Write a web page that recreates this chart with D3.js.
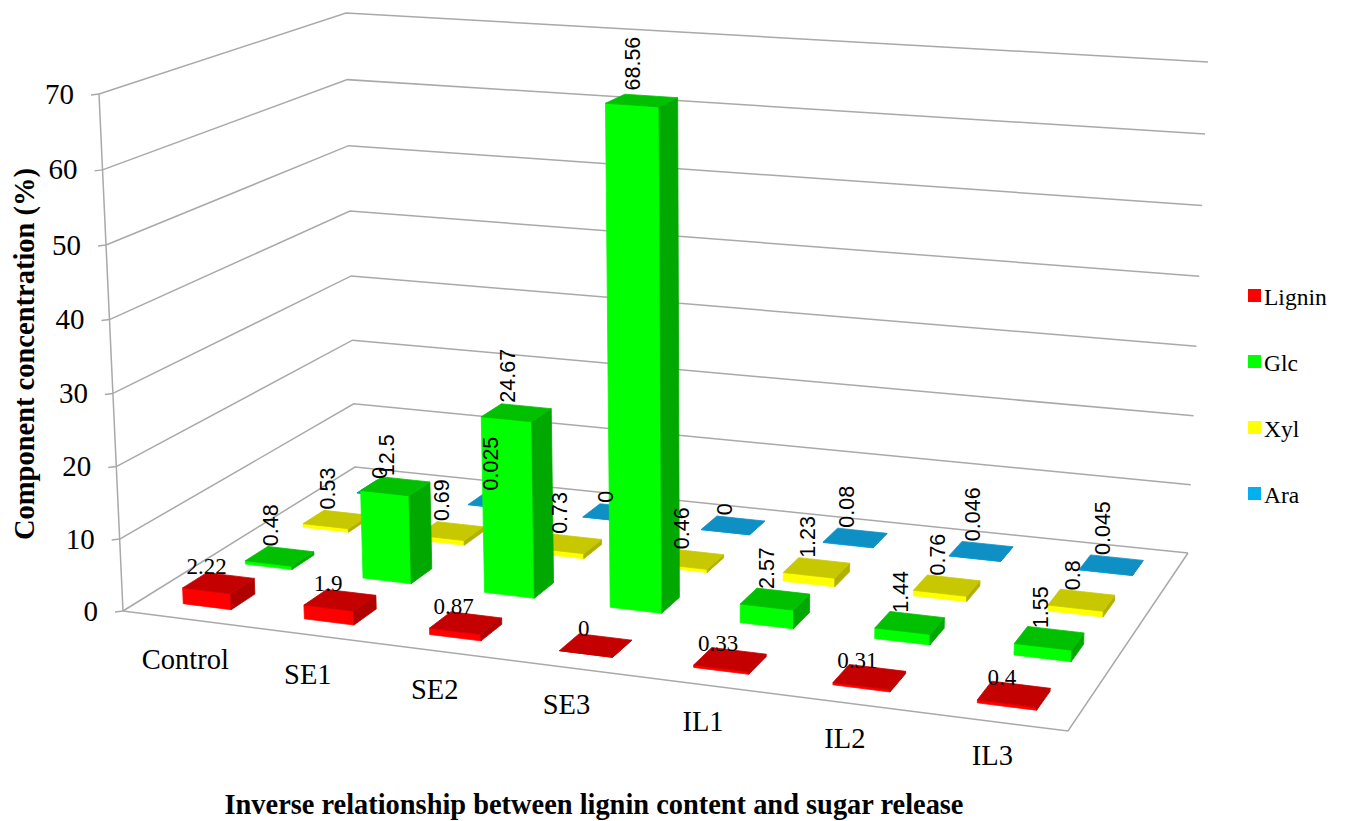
<!DOCTYPE html>
<html>
<head>
<meta charset="utf-8">
<style>
  html, body { margin: 0; padding: 0; background: #fff; }
  svg { display: block; }
  text { fill: #000; }
</style>
<script src="https://cdn.jsdelivr.net/npm/d3@7/dist/d3.min.js"></script>
</head>
<body>
<svg id="chart" width="1345" height="821"></svg>
<script>
// Sugar release and lignin content per pretreatment
const categories = ["Control", "SE1", "SE2", "SE3", "IL1", "IL2", "IL3"];
const seriesNames = ["Lignin", "Glc", "Xyl", "Ara"];
const lignin = [2.22, 1.9, 0.87, 0, 0.33, 0.31, 0.4];
const glc = [0.48, 12.5, 24.67, 68.56, 2.57, 1.44, 1.55];
const xyl = [0.53, 0.69, 0.73, 0.46, 1.23, 0.76, 0.8];
const ara = [0, 0.025, 0, 0, 0.08, 0.046, 0.045];
const seriesValues = [lignin, glc, xyl, ara];
const tickValues = [0, 10, 20, 30, 40, 50, 60, 70];

// Face shades for each series: front, top, side
const palette = {
  Lignin: { front: "#ff0000", top: "#c40000", side: "#b00000", key: "#ff0000" },
  Glc:    { front: "#00ff00", top: "#00c000", side: "#00a800", key: "#00ff00" },
  Xyl:    { front: "#ffff00", top: "#c8c800", side: "#b0b000", key: "#ffff00" },
  Ara:    { front: "#00b0f0", top: "#0f90c4", side: "#0c7ca8", key: "#00b0f0" }
};

const SERIF = "'Liberation Serif', serif";
const SANS = "'Liberation Sans', sans-serif";
const GRID = "#a9a9a9";

const svg = d3.select("#chart");

// Homography taking the unit square onto a quad (p00, p10, p11, p01)
function quadMap(p00, p10, p11, p01) {
  const dx1 = p10[0] - p11[0], dx2 = p01[0] - p11[0], sx = p00[0] - p10[0] + p11[0] - p01[0];
  const dy1 = p10[1] - p11[1], dy2 = p01[1] - p11[1], sy = p00[1] - p10[1] + p11[1] - p01[1];
  const det = dx1 * dy2 - dx2 * dy1;
  const g = (sx * dy2 - dx2 * sy) / det;
  const h = (dx1 * sy - sx * dy1) / det;
  const a = p10[0] - p00[0] + g * p10[0], b = p01[0] - p00[0] + h * p01[0], c = p00[0];
  const d = p10[1] - p00[1] + g * p10[1], e = p01[1] - p00[1] + h * p01[1], f = p00[1];
  return (u, v) => {
    const w = g * u + h * v + 1;
    return [(a * u + b * v + c) / w, (d * u + e * v + f) / w];
  };
}

// Floor and ceiling of the plot box in page space; u runs along categories, v into depth
const floorMap = quadMap([123, 611], [1068, 731], [1188, 553], [355, 467]);
const ceilMap = quadMap([99, 94], [1088, 165], [1208, 62], [346, 13]);

const yScale = d3.scaleLinear().domain([0, 70]).range([0, 1]);
const uScale = d3.scaleBand().domain(categories).range([0, 1]).paddingInner(0.6).paddingOuter(0.31).align(0.55);
const vScale = d3.scaleBand().domain(seriesNames).range([0, 1]).paddingInner(0.62).paddingOuter(0.3);

// Heights recede slightly toward the floor under the camera's perspective
const heightFraction = value => {
  const s = yScale(value);
  return s / (1 + 0.032 * (1 - s));
};

function project(u, v, value) {
  const a = floorMap(u, v), b = ceilMap(u, v), t = heightFraction(value);
  return [a[0] + (b[0] - a[0]) * t, a[1] + (b[1] - a[1]) * t];
}

const line = d3.line();
const walls = svg.append("g").attr("fill", "none").attr("stroke", GRID).attr("stroke-width", 1.5);

// Gridlines along the left and back walls, with a tick on the front corner
tickValues.forEach(t => {
  const fl = project(0, 0, t), bl = project(0, 1, t), br = project(1, 1, t);
  walls.append("path").attr("d", line([fl, bl, br]));
  walls.append("path").attr("d", line([[fl[0] - 8, fl[1] + 1], fl]));
});
walls.append("path").attr("d", line([project(0, 0, 0), project(0, 0, 70)]));
walls.append("path").attr("d", line([project(0, 0, 0), project(1, 0, 0), project(1, 1, 0)]));

// Value axis numbers
svg.append("g").selectAll("text").data(yScale.ticks(7)).join("text")
  .attr("x", d => project(0, 0, d)[0] - 25)
  .attr("y", d => project(0, 0, d)[1])
  .attr("dy", "0.33em")
  .attr("text-anchor", "end")
  .attr("font-family", SERIF)
  .attr("font-size", 29)
  .text(d => d);

// Category names sit just in front of the floor's leading edge, drifting with the view
const labelDx = d3.scaleLinear().domain([0, categories.length - 1]).range([32, 17]);
const labelDy = d3.scaleLinear().domain([0, categories.length - 1]).range([18, 7]);
const labelAnchor = d => project(uScale(d) + uScale.bandwidth() / 2, -0.13, 0);
svg.append("g").selectAll("text").data(categories).join("text")
  .attr("x", (d, i) => labelAnchor(d)[0] + labelDx(i))
  .attr("y", (d, i) => labelAnchor(d)[1] + labelDy(i))
  .attr("dy", "0.33em")
  .attr("text-anchor", "middle")
  .attr("font-family", SERIF)
  .attr("font-size", 28.5)
  .text(d => d);

// Flatten the table into one record per bar
const bars = [];
seriesNames.forEach((s, si) => categories.forEach((c, ci) => {
  bars.push({ series: s, category: c, value: seriesValues[si][ci] });
}));

function barGeometry(d) {
  const u0 = uScale(d.category), u1 = u0 + uScale.bandwidth();
  const v0 = vScale(d.series), v1 = v0 + vScale.bandwidth();
  const b = (u, v) => project(u, v, 0), t = (u, v) => project(u, v, d.value);
  return {
    front: [b(u0, v0), b(u1, v0), t(u1, v0), t(u0, v0)],
    side: [b(u1, v0), b(u1, v1), t(u1, v1), t(u1, v0)],
    top: [t(u0, v0), t(u1, v0), t(u1, v1), t(u0, v1)],
    centre: t((u0 + u1) / 2, (v0 + v1) / 2)
  };
}

// Paint from the back row forward so nearer bars overlap farther ones
const ordered = bars.slice().sort((a, b) =>
  seriesNames.indexOf(b.series) - seriesNames.indexOf(a.series) ||
  categories.indexOf(b.category) - categories.indexOf(a.category));

const polygon = pts => "M" + pts.map(p => p.join(",")).join("L") + "Z";
const barGroups = svg.append("g").selectAll("g").data(ordered).join("g");
["front", "side", "top"].forEach(face => {
  barGroups.append("path")
    .attr("d", d => polygon(barGeometry(d)[face]))
    .attr("fill", d => palette[d.series][face])
    .attr("stroke", d => palette[d.series][face])
    .attr("stroke-width", 0.8)
    .attr("stroke-linejoin", "round");
});

// Lignin values read horizontally, the sugars run upward from each bar
const labels = svg.append("g");
labels.selectAll("text.flat").data(bars.filter(d => d.series === "Lignin")).join("text")
  .attr("class", "flat")
  .attr("x", d => barGeometry(d).centre[0] - 12)
  .attr("y", d => barGeometry(d).centre[1] - 17)
  .attr("dy", "0.35em")
  .attr("text-anchor", "middle")
  .attr("font-family", SERIF)
  .attr("font-size", 23)
  .text(d => d.value);

labels.selectAll("text.up").data(bars.filter(d => d.series !== "Lignin")).join("text")
  .attr("class", "up")
  .attr("transform", d => {
    const c = barGeometry(d).centre;
    return `translate(${c[0] - 9},${c[1] - 10}) rotate(-90)`;
  })
  .attr("dy", "0.35em")
  .attr("font-family", SANS)
  .attr("font-size", 21.5)
  .text(d => d.value);

// Titles
svg.append("text")
  .attr("transform", "translate(25,354) rotate(-90)")
  .attr("dy", "0.33em")
  .attr("text-anchor", "middle")
  .attr("font-family", SERIF)
  .attr("font-weight", "bold")
  .attr("font-size", 28.5)
  .text("Component concentration (%)");

svg.append("text")
  .attr("x", 594)
  .attr("y", 805)
  .attr("dy", "0.33em")
  .attr("text-anchor", "middle")
  .attr("font-family", SERIF)
  .attr("font-weight", "bold")
  .attr("font-size", 28.4)
  .text("Inverse relationship between lignin content and sugar release");

// Legend
const legendY = d3.scalePoint().domain(seriesNames).range([295.5, 493.5]);
const legend = svg.append("g").selectAll("g").data(seriesNames).join("g")
  .attr("transform", d => `translate(1248,${legendY(d)})`);
legend.append("rect")
  .attr("x", 0).attr("y", -6.5).attr("width", 13).attr("height", 13)
  .attr("fill", d => palette[d].key);
legend.append("text")
  .attr("x", 16)
  .attr("y", 2)
  .attr("dy", "0.33em")
  .attr("font-family", SERIF)
  .attr("font-size", 23.5)
  .text(d => d);
</script>
</body>
</html>
